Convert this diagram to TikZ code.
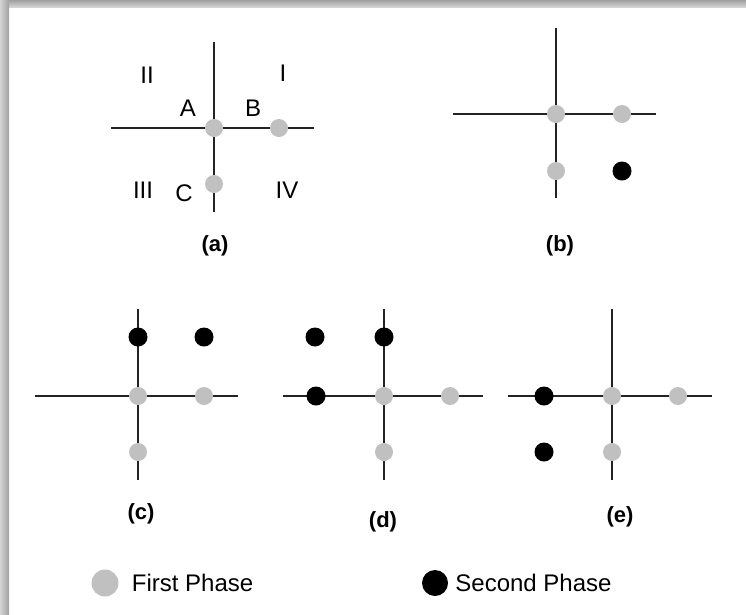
\documentclass[tikz,border=0pt]{standalone}
\usepackage{fontspec}
\setmainfont{Liberation Sans}
\usetikzlibrary{positioning}
\definecolor{phaseone}{RGB}{192,192,192}
\definecolor{phasetwo}{RGB}{0,0,0}
\definecolor{axisgray}{RGB}{35,35,35}
\definecolor{shadowgray}{RGB}{160,160,160}

\begin{document}
\begin{tikzpicture}[x=1pt, y=-1pt,
    firstdot/.style={circle, fill=phaseone, inner sep=0pt, minimum size=18pt},
    seconddot/.style={circle, fill=phasetwo, inner sep=0pt, minimum size=19pt},
    axisline/.style={draw=axisgray, line width=1.3pt},
    quad/.style={font=\fontsize{24}{24}\selectfont, inner sep=0pt},
    caption/.style={font=\fontsize{22}{22}\selectfont\bfseries, inner sep=0pt}
]
    \useasboundingbox (0,0) rectangle (746,614);
    % frame shadow
    \shade[top color=shadowgray, bottom color=shadowgray!45] (0,0) rectangle (746,7);
    \shade[left color=shadowgray!45, right color=shadowgray] (0,0) rectangle (9,614);

    % (a)
    \coordinate (a-n) at (214,42);
    \coordinate (a-s) at (214,212);
    \coordinate (a-w) at (111,128);
    \coordinate (a-e) at (314,128);
    \draw[axisline] (a-n) -- (a-s);
    \draw[axisline, line width=2.4pt] (a-w) -- (a-e);
    \node[firstdot] (aA) at (214,128) {};
    \node[firstdot] (aB) at (279,128) {};
    \node[firstdot] (aC) at (214,184) {};
    \node[quad] (qII) at (147,75) {II};
    \node[quad] (qI) at (283,73) {I};
    \node[quad] (qIII) at (143,190) {III};
    \node[quad] (qIV) at (287,190) {IV};
    \node[quad] (lA) at (188,108) {A};
    \node[quad] (lB) at (253,108) {B};
    \node[quad] (lC) at (184,193) {C};
    \node[caption] (capa) at (215,246) {(a)};

    % (b)
    \coordinate (b-n) at (556,28);
    \coordinate (b-s) at (556,198);
    \coordinate (b-w) at (453,114);
    \coordinate (b-e) at (656,114);
    \draw[axisline] (b-n) -- (b-s);
    \draw[axisline] (b-w) -- (b-e);
    \node[firstdot] (bA) at (556,114) {};
    \node[firstdot] (bB) at (622,114) {};
    \node[firstdot] (bC) at (556,171) {};
    \node[seconddot] (bD) at (622,171) {};
    \node[caption] (capb) at (560,246) {(b)};

    % (c)
    \coordinate (c-n) at (138,309);
    \coordinate (c-s) at (138,480);
    \coordinate (c-w) at (35,396);
    \coordinate (c-e) at (238,396);
    \draw[axisline] (c-n) -- (c-s);
    \draw[axisline] (c-w) -- (c-e);
    \node[seconddot] (cD) at (138,337) {};
    \node[seconddot] (cE) at (204,337) {};
    \node[firstdot] (cA) at (138,396) {};
    \node[firstdot] (cB) at (204,396) {};
    \node[firstdot] (cC) at (138,452) {};
    \node[caption] (capc) at (141,514) {(c)};

    % (d)
    \coordinate (d-n) at (384,309);
    \coordinate (d-s) at (384,480);
    \coordinate (d-w) at (283,396);
    \coordinate (d-e) at (483,396);
    \draw[axisline] (d-n) -- (d-s);
    \draw[axisline] (d-w) -- (d-e);
    \node[seconddot] (dD) at (315,337) {};
    \node[seconddot] (dE) at (384,337) {};
    \node[seconddot] (dF) at (316,396) {};
    \node[firstdot] (dA) at (384,396) {};
    \node[firstdot] (dB) at (450,396) {};
    \node[firstdot] (dC) at (384,452) {};
    \node[caption] (capd) at (383,522) {(d)};

    % (e)
    \coordinate (e-n) at (612,309);
    \coordinate (e-s) at (612,480);
    \coordinate (e-w) at (508,396);
    \coordinate (e-e) at (712,396);
    \draw[axisline] (e-n) -- (e-s);
    \draw[axisline] (e-w) -- (e-e);
    \node[seconddot] (eD) at (544,396) {};
    \node[seconddot] (eE) at (544,452) {};
    \node[firstdot] (eA) at (612,396) {};
    \node[firstdot] (eB) at (678,396) {};
    \node[firstdot] (eC) at (612,452) {};
    \node[caption] (cape) at (620,517) {(e)};

    % legend
    \node[firstdot, minimum size=27pt] (legone) at (105,583) {};
    \node[quad, right=13pt of legone] (txtone) {First Phase};
    \node[seconddot, minimum size=26pt] (legtwo) at (435,583) {};
    \node[quad, right=7pt of legtwo] (txttwo) {Second Phase};
\end{tikzpicture}
\end{document}
